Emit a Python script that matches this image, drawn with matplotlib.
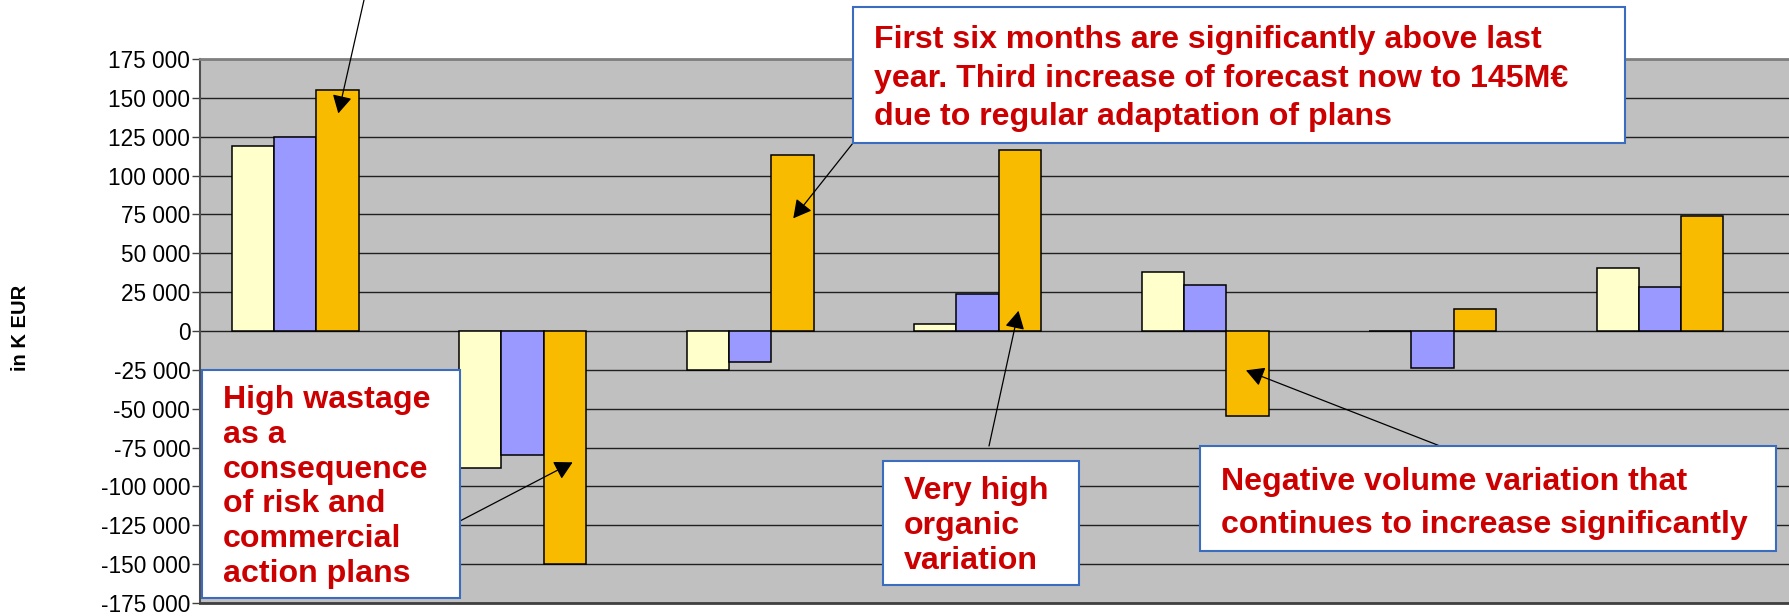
import matplotlib
matplotlib.use("Agg")
import matplotlib.pyplot as plt
from matplotlib.patches import Rectangle
import numpy as np

# ---------------- data ----------------
groups = ["G1", "G2", "G3", "G4", "G5", "G6", "G7"]
series_light = [119000, -88000, -24800, 4700, 38000, 0, 40500]
series_blue = [125000, -79800, -20100, 23800, 29800, -24000, 28300]
series_orange = [155000, -150000, 113500, 116700, -54700, 14400, 73800]
y_ticks = list(range(-175000, 175001, 25000))
y_label = "in K EUR"

W, H = 1789, 616
plt.rcParams['font.family'] = ['Liberation Sans', 'DejaVu Sans']

fig = plt.figure(figsize=(W / 100, H / 100), dpi=100)
ax = fig.add_axes([200 / W, (H - 603) / H, (W - 200) / W, (603 - 59) / H])
ax.set_facecolor('#C0C0C0')

x = np.arange(len(groups))
bw = 0.186
kw = dict(edgecolor='black', linewidth=1.1, zorder=3)
ax.bar(x - bw, series_light, bw, color='#FFFFCC', **kw)
ax.bar(x, series_blue, bw, color='#9999FF', **kw)
ax.bar(x + bw, series_orange, bw, color='#F9BB00', **kw)

ax.set_xlim(-0.418, 6.567)
ax.set_ylim(-175000, 175000)
ax.set_yticks(y_ticks)
ax.set_yticklabels([f"{v:,}".replace(",", " ") for v in y_ticks], fontsize=16.3)
ax.set_xticks([])
ax.tick_params(axis='y', length=6, width=1, pad=1, color='#404040')
ax.yaxis.grid(True, color='#202020', linewidth=1)
ax.set_axisbelow(True)
ax.spines['right'].set_visible(False)
ax.spines['top'].set_color('#808080')
ax.spines['top'].set_linewidth(2)
ax.spines['left'].set_color('#505050')
ax.spines['left'].set_linewidth(1.5)
ax.spines['bottom'].set_color('#404040')
ax.spines['bottom'].set_linewidth(2)

fig.text(20 / W, 1 - 328 / H, y_label, rotation=90, ha='center', va='center',
         fontsize=14.5, fontweight='bold')


def fx(px):
    return px / W


def fy(py):
    return 1 - py / H


def box(x0, y0, x1, y1, lines, tx, baselines):
    r = Rectangle((fx(x0), fy(y1)), fx(x1) - fx(x0), fy(y0) - fy(y1),
                  transform=fig.transFigure, facecolor='white',
                  edgecolor='#3A6CC0', linewidth=1.5, zorder=10)
    fig.add_artist(r)
    for ln, b in zip(lines, baselines):
        fig.text(fx(tx), fy(b), ln, ha='left', va='baseline', fontsize=23.1,
                 fontweight='bold', color='#CC0000', zorder=11)


def arrow(start_fig_px, tip_data):
    ax.annotate('', xy=tip_data, xycoords='data',
                xytext=(fx(start_fig_px[0]), fy(start_fig_px[1])),
                textcoords='figure fraction',
                arrowprops=dict(arrowstyle='-|>,head_length=0.55,head_width=0.3',
                                color='black', lw=0.9, shrinkA=0, shrinkB=0,
                                mutation_scale=20),
                annotation_clip=False, zorder=12)


box(202, 370, 460, 598,
    ["High wastage", "as a", "consequence", "of risk and", "commercial", "action plans"],
    223, [408, 443, 478, 512, 547, 582])
box(853, 7, 1625, 143,
    ["First six months are significantly above last",
     "year. Third increase of forecast now to 145M\u20ac",
     "due to regular adaptation of plans"],
    874, [48, 87, 125])
box(883, 461, 1079, 585, ["Very high", "organic", "variation"], 904, [499, 534, 569])
box(1200, 446, 1776, 551,
    ["Negative volume variation that", "continues to increase significantly"],
    1221, [490, 533])

arrow((364, 0), (0.19, 140000))
arrow((853, 143), (2.19, 72500))
arrow((460, 521), (1.22, -84500))
arrow((989, 446), (3.18, 13000))
arrow((1440, 446), (4.18, -25300))

fig.savefig('out.png', dpi=100)
